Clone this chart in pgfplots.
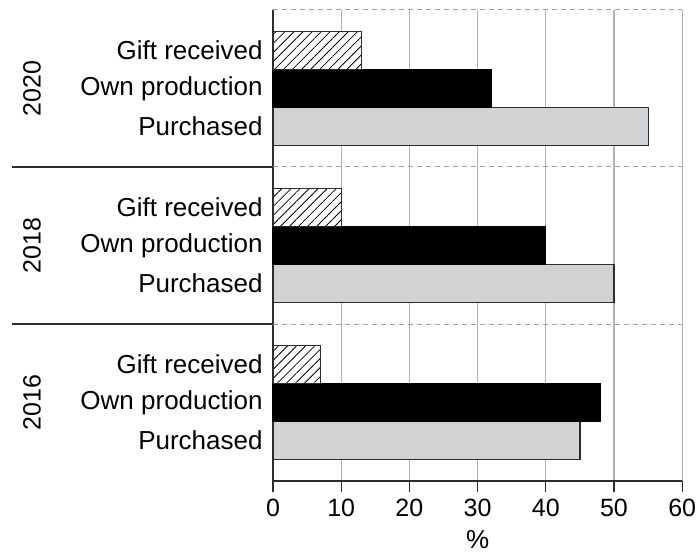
\documentclass[border=0pt]{standalone}
\usepackage{pgfplots}
\pgfplotsset{compat=1.18}
\usepackage{fontspec}
\setmainfont{Liberation Sans}
\usetikzlibrary{patterns.meta}
\definecolor{lgray}{RGB}{209,210,212}
\definecolor{gridgray}{RGB}{178,178,178}
\definecolor{dashgray}{RGB}{160,160,160}
\definecolor{axgray}{RGB}{45,45,45}
\begin{document}
\begin{tikzpicture}
\useasboundingbox (-136.5pt,-35.5pt) rectangle (211.5pt,240.5pt);
\begin{axis}[
 at={(0,0)}, anchor=south west,
 x=3.41pt, y=78.5pt,
 xmin=0, xmax=60, ymin=-0.5, ymax=2.5,
 axis x line*=bottom, axis y line*=left,
 axis line style={axgray, line width=0.6pt},
 xtick={0,10,...,60},
 tick align=outside,
 major tick length=5.5pt,
 xtick style={axgray, line width=0.6pt},
 ytick={-0.242,0,0.242,0.758,1,1.242,1.758,2,2.242},
 yticklabels={Purchased,Own production,Gift received,Purchased,Own production,Gift received,Purchased,Own production,Gift received},
 ytick style={draw=none},
 yticklabel style={font=\fontsize{13}{15}\selectfont, inner sep=0pt, xshift=0.5pt},
 xticklabel style={font=\fontsize{12.5}{15}\selectfont},
 /pgf/number format/assume math mode=true,
 xmajorgrids, major grid style={gridgray, line width=0.6pt},
 xlabel={\%}, xlabel style={font=\fontsize{13}{15}\selectfont},
 clip=false,
]
\draw[dashgray, dash pattern=on 2.5pt off 2pt, line width=0.5pt] (axis cs:0,2.5) -- (axis cs:60,2.5);
\draw[dashgray, dash pattern=on 2.5pt off 2pt, line width=0.5pt] (axis cs:0,1.5) -- (axis cs:60,1.5);
\draw[dashgray, dash pattern=on 2.5pt off 2pt, line width=0.5pt] (axis cs:0,0.5) -- (axis cs:60,0.5);
\draw[axgray, line width=0.6pt] (axis cs:0,1.5) -- ([xshift=-130.5pt]axis cs:0,1.5);
\draw[axgray, line width=0.6pt] (axis cs:0,0.5) -- ([xshift=-130.5pt]axis cs:0,0.5);
\addplot[xbar, bar width=0.242, bar shift=0, fill=lgray, draw=axgray, line width=0.6pt] coordinates {(45,-0.242) (50,0.758) (55,1.758)};
\addplot[xbar, bar width=0.242, bar shift=0, fill=black, draw=black, line width=0.6pt] coordinates {(48,0) (40,1) (32,2)};
\addplot[xbar, bar width=0.242, bar shift=0, fill=white, draw=axgray, line width=0.6pt, postaction={pattern={Lines[angle=45,distance=3.2pt,line width=0.4pt]}}] coordinates {(7,0.242) (10,1.242) (13,2.242)};
\node[rotate=90, font=\fontsize{12.5}{15}\selectfont] at ([xshift=-120.5pt]axis cs:0,2) {2020};
\node[rotate=90, font=\fontsize{12.5}{15}\selectfont] at ([xshift=-120.5pt]axis cs:0,1) {2018};
\node[rotate=90, font=\fontsize{12.5}{15}\selectfont] at ([xshift=-120.5pt]axis cs:0,0) {2016};
\end{axis}
\end{tikzpicture}
\end{document}
